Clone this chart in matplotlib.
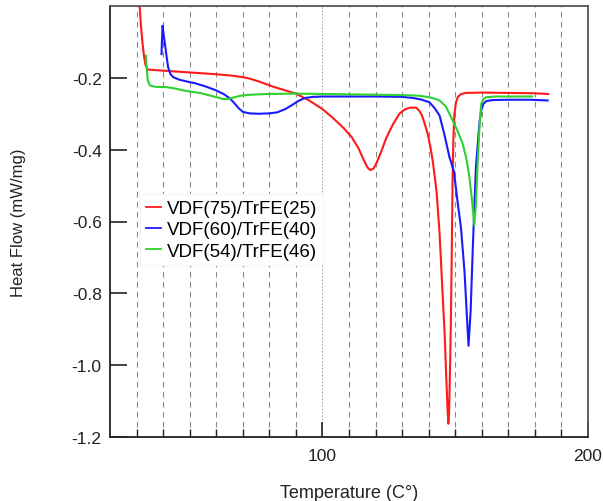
import matplotlib
matplotlib.use("Agg")
import matplotlib.pyplot as plt
from matplotlib.ticker import FixedLocator, NullFormatter

plt.rcParams['font.family'] = ['Liberation Sans', 'DejaVu Sans']

# ---- data ----
red_x = [31.0, 31.6, 32.2, 32.8, 33.4, 34.2, 40, 50, 60, 66, 70, 73, 76, 79, 82, 86, 90, 95,
         100, 104, 108, 111, 113.5, 115.5, 117, 118.1, 119.3, 120.5, 122, 124, 126.5, 129,
         131, 133, 135.3, 136.5, 137.5, 138.6, 139.6, 140.6, 141.5, 142.3, 143, 143.6, 144.1,
         144.7, 145.3, 146, 146.6, 147.1, 147.4, 147.7, 148.1, 148.4, 148.7, 149.0, 149.3,
         149.7, 150.3, 151, 152.2, 154, 160, 170, 180, 185]
red_y = [0.02, -0.05, -0.10, -0.14, -0.165, -0.177, -0.180, -0.185, -0.190, -0.194, -0.198,
         -0.203, -0.210, -0.218, -0.226, -0.235, -0.244, -0.263, -0.287, -0.312, -0.340,
         -0.365, -0.395, -0.428, -0.450, -0.457, -0.452, -0.435, -0.408, -0.368, -0.330,
         -0.300, -0.288, -0.283, -0.283, -0.292, -0.305, -0.330, -0.355, -0.390, -0.430,
         -0.475, -0.520, -0.580, -0.632, -0.720, -0.810, -0.909, -1.030, -1.120, -1.163,
         -1.130, -0.990, -0.863, -0.680, -0.490, -0.370, -0.300, -0.268, -0.253, -0.245,
         -0.242, -0.241, -0.242, -0.243, -0.245]

blue_x = [39.4, 39.6, 39.8, 40.2, 40.7, 41.3, 41.9, 42.8, 43.8, 46, 48.8, 52, 56, 60, 63, 65.1,
          67, 68.5, 70.1, 72.6, 76, 80, 83, 86, 88.5, 91, 93.5, 96.4, 100, 110, 120, 130, 134,
          137, 140.3, 142.3, 144.1, 146, 147.8, 149.5, 150.8, 152.2, 153.5, 154.3, 155,
          155.8, 156.6, 157.2, 157.8, 158.5, 159.2, 159.8, 160.6, 161.6, 164, 170, 178, 184.8]
blue_y = [-0.134, -0.090, -0.055, -0.080, -0.106, -0.140, -0.171, -0.190, -0.198, -0.205,
          -0.210, -0.215, -0.224, -0.235, -0.246, -0.257, -0.272, -0.285, -0.295, -0.299,
          -0.300, -0.299, -0.296, -0.287, -0.276, -0.264, -0.256, -0.253, -0.252, -0.252,
          -0.252, -0.253, -0.256, -0.260, -0.268, -0.285, -0.305, -0.360, -0.420, -0.460,
          -0.540, -0.620, -0.740, -0.850, -0.946, -0.850, -0.678, -0.560, -0.448, -0.383,
          -0.320, -0.290, -0.273, -0.265, -0.262, -0.261, -0.261, -0.263]

green_x = [33.5, 33.8, 34.2, 35, 37, 41.3, 44, 47.6, 50, 53.8, 57, 60.1, 62.6, 64.5, 66.4, 68.5,
           70.1, 73, 78.9, 90, 100, 110, 120, 129, 134, 136.6, 140, 142.3, 144.1, 146.5, 149,
           151, 152.8, 154.2, 155.3, 156.3, 157.2, 157.8, 158.5, 159.2, 159.8, 160.6, 161.6,
           165, 172, 179]
green_y = [-0.138, -0.170, -0.207, -0.221, -0.225, -0.226, -0.229, -0.235, -0.238, -0.242,
           -0.248, -0.254, -0.259, -0.259, -0.255, -0.251, -0.249, -0.247, -0.245, -0.244,
           -0.245, -0.246, -0.247, -0.248, -0.249, -0.250, -0.254, -0.258, -0.263, -0.280,
           -0.318, -0.350, -0.383, -0.425, -0.475, -0.540, -0.611, -0.550, -0.429, -0.330,
           -0.272, -0.260, -0.254, -0.252, -0.252, -0.252]

labels = ['VDF(75)/TrFE(25)', 'VDF(60)/TrFE(40)', 'VDF(54)/TrFE(46)']
colors = ['#ff1a1a', '#1a1aff', '#2ed12e']

x_major = [100, 200]
x_grid = [30, 40, 50, 60, 70, 80, 90, 110, 120, 130, 140, 150, 160, 170, 180, 190]
y_ticks = [-1.2, -1.0, -0.8, -0.6, -0.4, -0.2]
y_ticklabels = ['-1.2', '-1.0', '-0.8', '-0.6', '-0.4', '-0.2']

# ---- figure ----
fig = plt.figure(figsize=(6.03, 5.02), dpi=100)
ax = fig.add_axes([110/603, 1 - 438/502, 478/603, 431/502])

for xs, ys, c, lab in zip([red_x, blue_x, green_x], [red_y, blue_y, green_y], colors, labels):
    ax.plot(xs, ys, color=c, lw=1.5, label=lab, solid_joinstyle='round')

ax.set_xlim(20, 200)
ax.set_ylim(-1.2, 0.0)

ax.xaxis.set_major_locator(FixedLocator(x_major))
ax.xaxis.set_minor_locator(FixedLocator(x_grid))
ax.xaxis.set_minor_formatter(NullFormatter())
ax.set_yticks(y_ticks)
ax.set_yticklabels(y_ticklabels)

ax.grid(which='minor', axis='x', color='#8a8a8a', lw=0.8, linestyle=(0, (5, 4)))
ax.grid(which='major', axis='x', color='#9a9a9a', lw=0.7, linestyle=(0, (1.5, 2)))
ax.set_axisbelow(True)

ax.tick_params(axis='x', which='major', direction='in', length=11, width=1.2, pad=8,
               labelsize=12.5, colors='#222222')
ax.tick_params(axis='x', which='minor', direction='in', length=6, width=1.0, color='#222222')
ax.tick_params(axis='y', which='major', direction='in', length=12, width=1.2, pad=6,
               labelsize=12.5, colors='#222222')

for s in ['left', 'bottom']:
    ax.spines[s].set_color('#222222')
    ax.spines[s].set_linewidth(1.3)
for s in ['top', 'right']:
    ax.spines[s].set_color('#555555')
    ax.spines[s].set_linewidth(1.3)

ax.set_xlabel('Temperature (C°)', fontsize=13, color='#222222', labelpad=15)
ax.set_ylabel('Heat Flow (mW/mg)', fontsize=12, color='#222222')
ax.yaxis.set_label_coords(-0.176, 0.5)

leg = ax.legend(loc='upper left', bbox_to_anchor=(0.063, 0.563), borderaxespad=0,
                fontsize=13.5, handlelength=0.8, handletextpad=0.35, labelspacing=0.22,
                frameon=True, fancybox=False, borderpad=0.3)
leg.get_frame().set_edgecolor('#f4f4f4')
leg.get_frame().set_linewidth(0.8)
leg.get_frame().set_alpha(1.0)
for l in leg.get_lines():
    l.set_linewidth(1.3)

fig.savefig('out.png', dpi=100)
